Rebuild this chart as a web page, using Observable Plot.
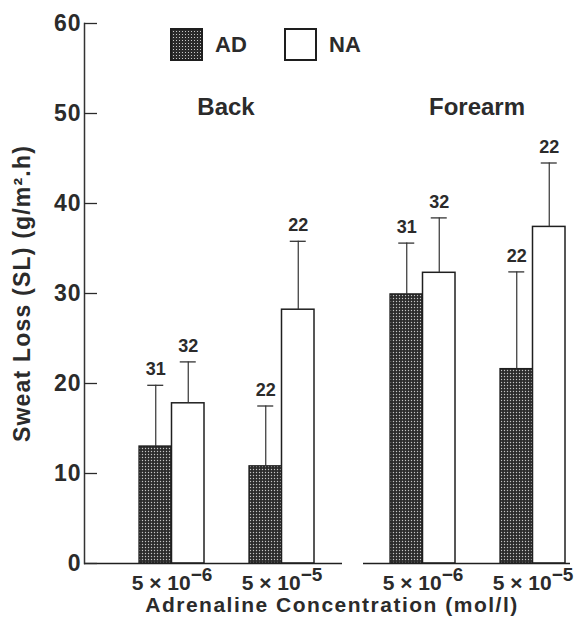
<!DOCTYPE html>
<html><head><meta charset="utf-8">
<script src="https://cdn.jsdelivr.net/npm/d3@7"></script>
<script src="https://cdn.jsdelivr.net/npm/@observablehq/plot@0.6"></script>
<style>
body{margin:0;background:#fff;}
#wrap{position:relative;width:581px;height:625px;font-family:"Liberation Sans",Arial,sans-serif;color:#2b2b2b;}
.lg{position:absolute;top:28px;height:33px;display:flex;align-items:center;font-weight:bold;font-size:22px;}
.sw{width:33px;height:33px;box-sizing:border-box;border:2px solid #1e1e1e;margin-right:12px;}
.ad{background:#2b2b2b radial-gradient(circle, #c8c8c8 0.7px, transparent 1px) 0 0/3px 3px;}
.na{background:#fff;}
#xtitle{position:absolute;left:0;width:664px;top:593px;text-align:center;font-weight:bold;font-size:21px;letter-spacing:1.5px;}
</style></head>
<body><div id="wrap"></div>
<script>
const sites = ["Back", "Forearm"];
const concentrations = ["5 × 10^-6", "5 × 10^-5"];
const groups = ["AD", "NA"];
// order: Back 5e-6, Back 5e-5, Forearm 5e-6, Forearm 5e-5
const adMean = [13.0, 10.8, 29.9, 21.6];
const adUpper = [19.8, 17.5, 35.6, 32.4];
const adN = [31, 22, 31, 22];
const naMean = [17.8, 28.2, 32.3, 37.4];
const naUpper = [22.4, 35.8, 38.4, 44.5];
const naN = [32, 22, 32, 22];
const yTicks = [0, 10, 20, 30, 40, 50, 60];
const yLabel = "Sweat Loss (SL) (g/m².h)";
const xLabel = "Adrenaline Concentration (mol/l)";

function rows(mean, upper, n, group) {
  const out = [];
  sites.forEach((site, i) => concentrations.forEach((conc, j) => {
    const k = i * concentrations.length + j;
    out.push({site, conc, group, mean: mean[k], upper: upper[k], n: n[k]});
  }));
  return out;
}
const ad = rows(adMean, adUpper, adN, groups[0]);
const na = rows(naMean, naUpper, naN, groups[1]);

const base = {
  width: 581, height: 625,
  marginTop: 23, marginBottom: 62, marginLeft: 84, marginRight: 0,
  style: {fontFamily: "'Liberation Sans', Arial, sans-serif", color: "#2b2b2b", background: "white"},
  fx: {domain: sites, range: [84, 586], paddingInner: 0, paddingOuter: 0, axis: null, label: null},
  x: {domain: concentrations, paddingInner: 0.407, paddingOuter: 0.339, align: 0.72, label: null},
  y: {domain: [0, 60], label: null}
};
const probe = Plot.plot({...base, marks: [Plot.barY(ad, {fx: "site", x: "conc", y: "mean"})]});
const bw = probe.scale("x").bandwidth;
const half = bw / 2, q = bw / 4, cap = 8;
const ink = "#1f1f1f";

const plot = Plot.plot({
  ...base,
  marks: [
    Plot.barY(ad, {fx: "site", x: "conc", y: "mean", fill: "url(#dots)", stroke: ink, strokeWidth: 1.3, insetRight: half}),
    Plot.barY(na, {fx: "site", x: "conc", y: "mean", fill: "white", stroke: ink, strokeWidth: 1.5, insetLeft: half}),
    Plot.ruleX(ad, {fx: "site", x: "conc", y1: "mean", y2: "upper", dx: -q, stroke: "#333", strokeWidth: 1.2}),
    Plot.ruleX(na, {fx: "site", x: "conc", y1: "mean", y2: "upper", dx: q, stroke: "#333", strokeWidth: 1.2}),
    Plot.tickY(ad, {fx: "site", x: "conc", y: "upper", insetLeft: q - cap, insetRight: 3 * q - cap, stroke: "#333", strokeWidth: 1.3}),
    Plot.tickY(na, {fx: "site", x: "conc", y: "upper", insetLeft: 3 * q - cap, insetRight: q - cap, stroke: "#333", strokeWidth: 1.3}),
    Plot.text(ad, {fx: "site", x: "conc", y: "upper", text: "n", dx: -q, dy: -16, fontSize: 18, fontWeight: "bold", fill: "#2b2b2b"}),
    Plot.text(na, {fx: "site", x: "conc", y: "upper", text: "n", dx: q, dy: -16, fontSize: 18, fontWeight: "bold", fill: "#2b2b2b"}),
    Plot.ruleY([sites[0]], {fx: d => d, y: () => 0, insetRight: -7, stroke: ink, strokeWidth: 1.5}),
    Plot.ruleY([sites[1]], {fx: d => d, y: () => 0, insetLeft: 28, insetRight: 16, stroke: ink, strokeWidth: 1.5}),
    Plot.frame({anchor: "left", facetAnchor: "left", stroke: "#333", strokeWidth: 1.5}),
    Plot.axisY({ticks: yTicks, tickSize: 0, tickPadding: 3, fontSize: 23, fontWeight: "bold", label: yLabel, labelArrow: "none", labelAnchor: "center", labelOffset: 71}),
    Plot.axisY({ticks: yTicks, tickSize: -13, tickFormat: () => "", label: null, strokeWidth: 1.3}),
    Plot.axisX({tickSize: 0, tickPadding: 12, fontSize: 21, fontWeight: "bold", label: null}),
    Plot.text(sites, {fx: d => d, text: d => d, frameAnchor: "top", dy: 74, dx: 16, fontSize: 24, fontWeight: "bold", fill: "#2b2b2b"})
  ]
});

const svg = plot.tagName.toLowerCase() === "svg" ? plot : plot.querySelector("svg");
const defs = document.createElementNS("http://www.w3.org/2000/svg", "defs");
defs.innerHTML = '<pattern id="dots" width="3" height="3" patternUnits="userSpaceOnUse"><rect width="3" height="3" fill="#2b2b2b"/><circle cx="1.5" cy="1.5" r="0.7" fill="#c4c4c4"/></pattern>';
svg.insertBefore(defs, svg.firstChild);

const sel = d3.select(svg);
sel.selectAll('g[aria-label="x-axis tick label"] text').each(function () {
  const t = this.textContent;
  if (!t.includes("^")) return;
  const [b, e] = t.split("^");
  const s = d3.select(this);
  s.text(null);
  s.append("tspan").text(b);
  s.append("tspan").attr("dy", "-0.5em").attr("font-size", "19").text(e.replace("-", "−"));
});
sel.selectAll('g[aria-label="y-axis tick label"] text').attr("letter-spacing", "1");
sel.selectAll('g[aria-label="y-axis label"] text').each(function () {
  this.textContent = this.textContent.replace(/\s*[↑↓]\s*/g, "");
}).attr("letter-spacing", "1.2");

const wrap = document.getElementById("wrap");
wrap.appendChild(plot);
function legendItem(label, cls, left) {
  const d = document.createElement("div");
  d.className = "lg";
  d.style.left = left + "px";
  d.innerHTML = `<div class="sw ${cls}"></div><span>${label}</span>`;
  wrap.appendChild(d);
}
legendItem(groups[0], "ad", 170);
legendItem(groups[1], "na", 284);
const xt = document.createElement("div");
xt.id = "xtitle";
xt.textContent = xLabel;
wrap.appendChild(xt);
</script>
</body></html>
